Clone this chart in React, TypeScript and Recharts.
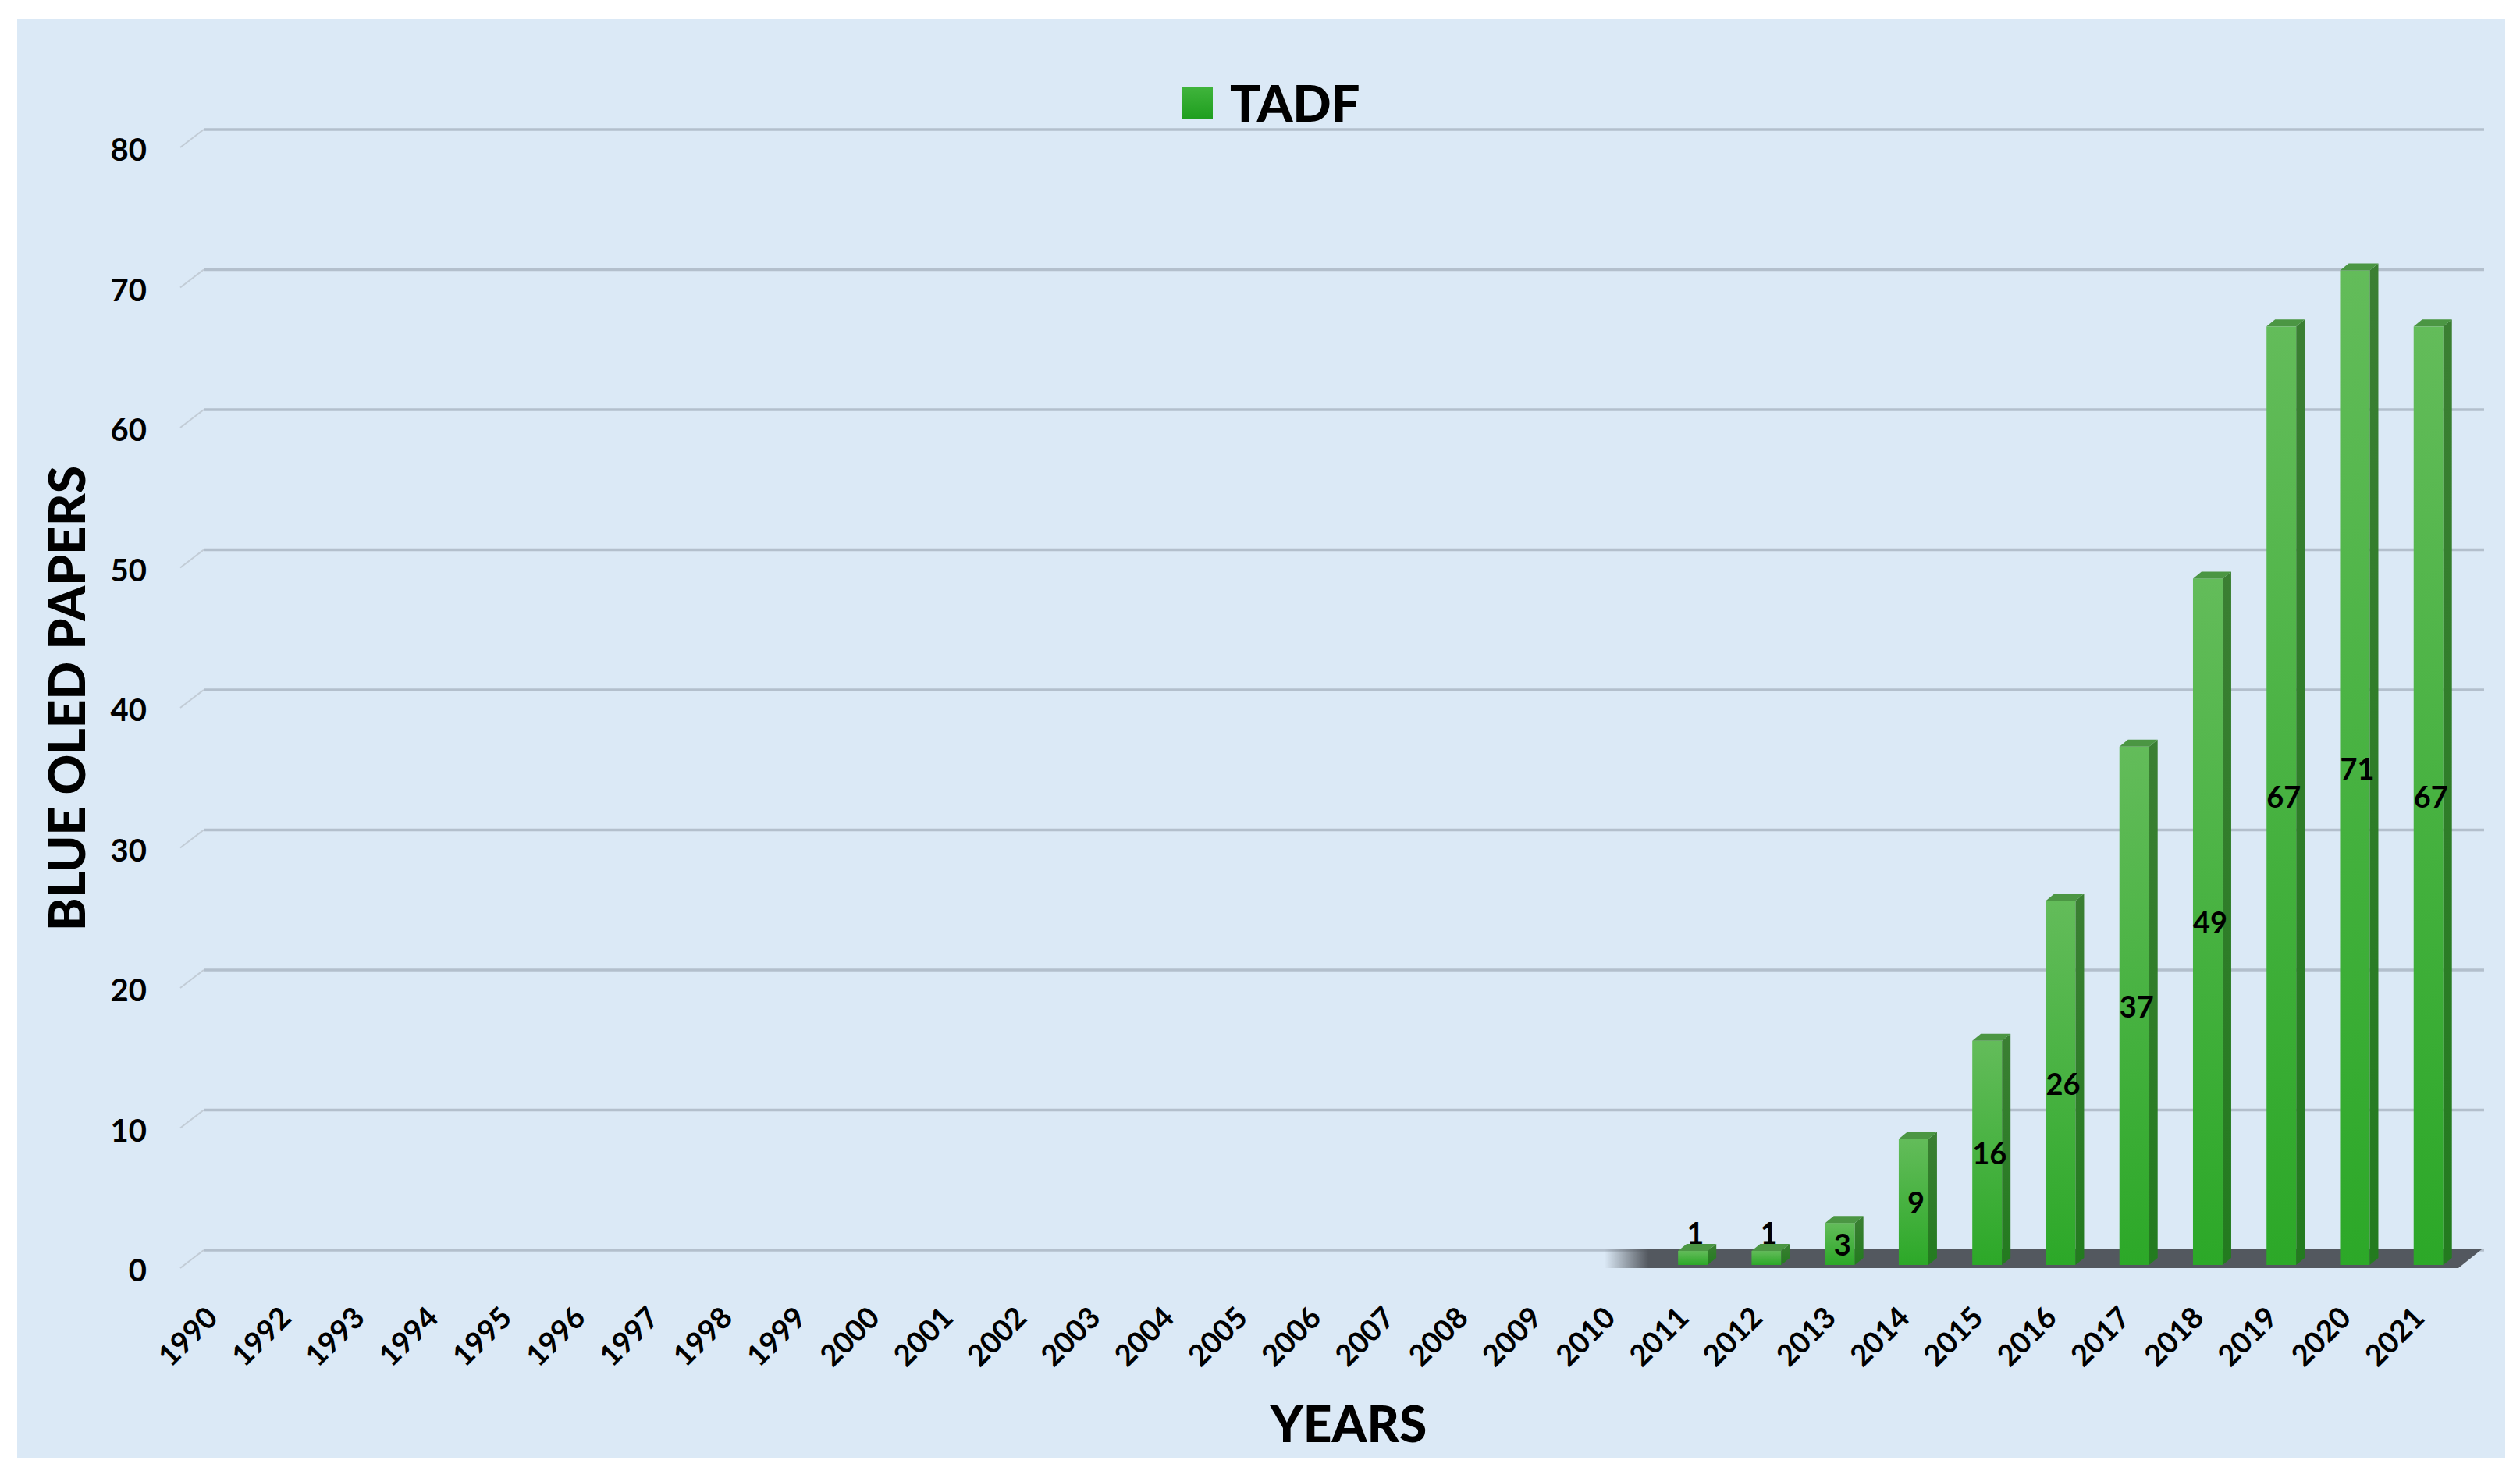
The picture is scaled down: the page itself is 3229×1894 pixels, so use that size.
import { BarChart, Bar, XAxis, YAxis, CartesianGrid, Legend, LabelList, ReferenceArea } from "recharts";

// categories (note: 1991 is missing in the source chart)
const years = [
  "1990", "1992", "1993", "1994", "1995", "1996", "1997", "1998", "1999", "2000",
  "2001", "2002", "2003", "2004", "2005", "2006", "2007", "2008", "2009", "2010",
  "2011", "2012", "2013", "2014", "2015", "2016", "2017", "2018", "2019", "2020", "2021",
];

const tadfPapers = [
  0, 0, 0, 0, 0, 0, 0, 0, 0, 0,
  0, 0, 0, 0, 0, 0, 0, 0, 0, 0,
  1, 1, 3, 9, 16, 26, 37, 49, 67, 71, 67,
];

const yTicks = [0, 10, 20, 30, 40, 50, 60, 70, 80];

const chartData = years.map((year, i) => ({ year, TADF: tadfPapers[i] }));

const FONT = "Lato, 'Open Sans', 'Liberation Sans', sans-serif";

// fake 3D depth of bars and back wall
const BAR_DX = 11;
const BAR_DY = 9;
const WALL_DX = 24;
const WALL_DY = 19;

const Bar3D = (props: any) => {
  const { x, y, width, height, value } = props;
  if (!value || !height) return <g />;
  const r = x + width;
  return (
    <g>
      <rect x={x} y={y} width={width} height={height} fill="url(#barFront)" />
      <polygon
        points={`${r},${y} ${r + BAR_DX},${y - BAR_DY} ${r + BAR_DX},${y + height - BAR_DY} ${r},${y + height}`}
        fill="url(#barSide)"
      />
      <polygon
        points={`${x},${y} ${x + BAR_DX},${y - BAR_DY} ${r + BAR_DX},${y - BAR_DY} ${r},${y}`}
        fill="#4b9643"
      />
    </g>
  );
};

// dark floor slab under the non-zero years, fading out on the left
const FloorShape = (props: any) => {
  const { x, y, width, height } = props;
  const b = y + height;
  return (
    <polygon
      points={`${x + 28},${b} ${x + width - 9},${b} ${x + width + 21},${y} ${x + 28},${y}`}
      fill="url(#floorFade)"
    />
  );
};

const gridLine = (props: any) => {
  const { x1, x2, y1, index } = props;
  return (
    <g key={`grid-${index}-${y1}`}>
      <line x1={x1 - 6} y1={y1 + 4} x2={x1 + WALL_DX} y2={y1 - WALL_DY} stroke="#c2ccd6" strokeWidth={2} />
      <line x1={x1 + WALL_DX} y1={y1 - WALL_DY} x2={x2 + WALL_DX} y2={y1 - WALL_DY} stroke="#b3bfcc" strokeWidth={3.5} />
    </g>
  );
};

const YTick = ({ x, y, payload }: any) => (
  <text x={x} y={y + 6} textAnchor="end" dominantBaseline="central" fontFamily={FONT} fontWeight={700} fontSize={40} fill="#000">
    {payload.value}
  </text>
);

const XTick = ({ x, y, payload }: any) => (
  <g transform={`translate(${x - 3},${y + 70})`}>
    <text transform="rotate(-45)" textAnchor="end" fontFamily={FONT} fontWeight={700} fontSize={38} fill="#000">
      {payload.value}
    </text>
  </g>
);

const valueLabel = (props: any) => {
  const vb = props.viewBox ?? props;
  const { value } = props;
  if (!value) return null;
  const x = vb.x ?? props.x;
  const y = vb.y ?? props.y;
  const width = vb.width ?? props.width;
  const height = vb.height ?? props.height;
  const cx = x + width / 2 + 3;
  const cy = value < 2 ? y - 24 : y + height / 2;
  return (
    <text x={cx} y={cy} textAnchor="middle" dominantBaseline="central" fontFamily={FONT} fontWeight={700} fontSize={38} fill="#000">
      {value}
    </text>
  );
};

const yearsTitle = (props: any) => {
  const { x, y, width } = props.viewBox;
  return (
    <text x={x + width / 2 + 30} y={y + 227} textAnchor="middle" fontFamily={FONT} fontWeight={900} fontSize={64} fill="#000">
      YEARS
    </text>
  );
};

const papersTitle = (props: any) => {
  const { y, height } = props.viewBox;
  const cx = 84;
  const cy = y + height / 2 - 8;
  return (
    <text
      x={cx}
      y={cy}
      transform={`rotate(-90, ${cx}, ${cy})`}
      textAnchor="middle"
      dominantBaseline="central"
      fontFamily={FONT}
      fontWeight={900}
      fontSize={64}
      fill="#000"
    >
      BLUE OLED PAPERS
    </text>
  );
};

const renderLegend = (props: any) => (
  <div style={{ display: "flex", alignItems: "center" }}>
    {(props.payload || []).map((entry: any) => (
      <div key={entry.value} style={{ display: "flex", alignItems: "center" }}>
        <span
          style={{
            display: "inline-block",
            width: 39,
            height: 41,
            background: "linear-gradient(#40b43c, #1f9f1f)",
            marginRight: 22,
          }}
        />
        <span style={{ fontFamily: FONT, fontWeight: 900, fontSize: 65, color: "#000", lineHeight: "70px" }}>
          {entry.value}
        </span>
      </div>
    ))}
  </div>
);

export default function App() {
  return (
    <div style={{ position: "relative", width: 3229, height: 1894, background: "#fff" }}>
      <style>{"body{margin:0}"}</style>
      <div
        style={{
          position: "absolute",
          left: 22,
          top: 24,
          width: 3188,
          height: 1845,
          background: "#dbe9f6",
        }}
      />
      <div style={{ position: "absolute", left: 0, top: 0 }}>
        <BarChart
          width={3229}
          height={1894}
          data={chartData}
          margin={{ top: 185, right: 70, bottom: 0, left: 0 }}
        >
          <defs>
            <linearGradient id="barFront" x1="0" y1="0" x2="0" y2="1">
              <stop offset="0%" stopColor="#63bc5a" />
              <stop offset="100%" stopColor="#2ca828" />
            </linearGradient>
            <linearGradient id="barSide" x1="0" y1="0" x2="0" y2="1">
              <stop offset="0%" stopColor="#3b7f33" />
              <stop offset="100%" stopColor="#237b1f" />
            </linearGradient>
            <linearGradient id="floorFade" x1="0" y1="0" x2="1" y2="0">
              <stop offset="0%" stopColor="#53585f" stopOpacity={0} />
              <stop offset="5%" stopColor="#53585f" stopOpacity={1} />
              <stop offset="100%" stopColor="#53585f" stopOpacity={1} />
            </linearGradient>
          </defs>
          <CartesianGrid horizontal={gridLine} vertical={false} fill="none" />
          <XAxis
            dataKey="year"
            interval={0}
            tickLine={false}
            axisLine={false}
            tickSize={0}
            tickMargin={0}
            height={273}
            tick={XTick}
            label={{ content: yearsTitle }}
          />
          <YAxis
            domain={[0, 80]}
            ticks={yTicks}
            width={237}
            tickLine={false}
            axisLine={false}
            tickSize={0}
            tickMargin={49}
            tick={YTick}
            label={{ content: papersTitle }}
          />
          <Legend
            layout="horizontal"
            verticalAlign="middle"
            align="center"
            wrapperStyle={{ top: 96, left: 1515, width: 400, height: 72 }}
            content={renderLegend}
          />
          <ReferenceArea x1="2010" x2="2021" y1={-0.22} y2={1.11} ifOverflow="visible" shape={FloorShape} />
          <Bar dataKey="TADF" name="TADF" fill="#35ad2f" barSize={38} shape={Bar3D} isAnimationActive={false}>
            <LabelList dataKey="TADF" content={valueLabel} />
          </Bar>
        </BarChart>
      </div>
    </div>
  );
}
